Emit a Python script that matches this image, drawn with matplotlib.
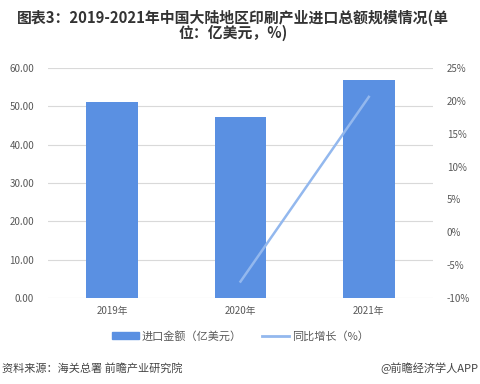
import matplotlib.pyplot as plt
from matplotlib.lines import Line2D
from matplotlib.patches import Patch

plt.rcParams['font.family'] = ['Noto Sans CJK SC', 'DejaVu Sans']

years = ['2019年', '2020年', '2021年']
import_value = [51.1, 47.3, 56.9]        # 亿美元
growth_years = [1, 2]                     # index of years with growth data
growth_rate = [-7.5, 20.6]                # %
left_ticks = [0, 10, 20, 30, 40, 50, 60]
right_ticks = [-10, -5, 0, 5, 10, 15, 20, 25]

bar_color = '#5a90e2'
line_color = '#93b8ee'
text_color = '#595959'

fig = plt.figure(figsize=(4.81, 3.84), dpi=100)
ax1 = fig.add_axes([0.0998, 0.224, 0.8004, 0.599])

x = range(len(years))
ax1.bar(x, import_value, width=0.405, color=bar_color, zorder=2)
ax1.set_xlim(-0.5, 2.5)
ax1.set_ylim(0, 60)
ax1.set_yticks(left_ticks)
ax1.set_yticklabels([f'{v:.2f}' for v in left_ticks])
ax1.set_xticks(list(x))
ax1.set_xticklabels(years)
ax1.grid(axis='y', color='#d9d9d9', linewidth=0.8, zorder=0)
ax1.set_axisbelow(True)
for s in ax1.spines.values():
    s.set_visible(False)
ax1.tick_params(axis='both', length=0, labelsize=7, labelcolor=text_color)
ax1.tick_params(axis='y', pad=10)
ax1.tick_params(axis='x', pad=6)

ax2 = ax1.twinx()
ax2.plot(growth_years, growth_rate, color=line_color, linewidth=1.8, zorder=3)
ax2.set_ylim(-10, 25)
ax2.set_yticks(right_ticks)
ax2.set_yticklabels([f'{v}%' for v in right_ticks])
for s in ax2.spines.values():
    s.set_visible(False)
ax2.tick_params(axis='y', length=0, labelsize=7, labelcolor=text_color, pad=10)

fig.text(0.485, 0.975, '图表3：2019-2021年中国大陆地区印刷产业进口总额规模情况(单\n位：亿美元，%)',
         ha='center', va='top', fontsize=10.7, fontweight='bold', color='#333333',
         linespacing=0.95)

handles = [Patch(color=bar_color), Line2D([0], [0], color=line_color, linewidth=2)]
fig.legend(handles, ['进口金额（亿美元）', '同比增长（%）'], loc='center',
           bbox_to_anchor=(0.5, 0.125), ncol=2, frameon=False, fontsize=8,
           labelcolor=text_color, handlelength=2.4, handleheight=0.5,
           columnspacing=1.8, handletextpad=0.3)

fig.text(0.005, 0.04, '资料来源：海关总署 前瞻产业研究院', ha='left', va='center',
         fontsize=8, color='#444444')
fig.text(0.995, 0.04, '@前瞻经济学人APP', ha='right', va='center',
         fontsize=8, color='#444444')

fig.savefig('out.png', dpi=100)
